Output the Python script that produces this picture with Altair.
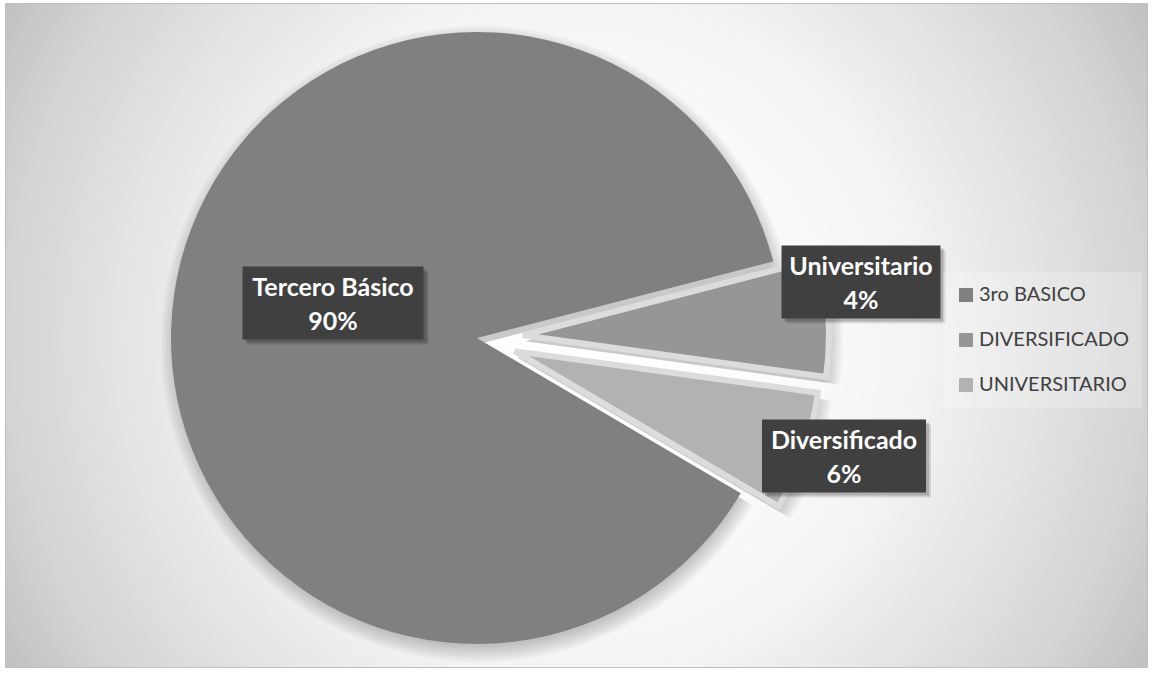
import math
import altair as alt
import pandas as pd

# ---- data ----
categories = ["3ro BASICO", "DIVERSIFICADO", "UNIVERSITARIO"]
values = [87.5, 6.2, 6.3]
label_text = ["Tercero Básico\n90%", "Universitario\n4%", "Diversificado\n6%"]
colors = ["#808080", "#969696", "#b2b2b2"]

# ---- layout / style ----
W, H = 1153, 675
CX, CY = 477, 338
R = 306
START = math.radians(120.5)
EXPLODE = [0, 46, 40]
LABEL_POS = [(333, 303), (861, 282), (844, 456)]
BOX_SIZE = [(181, 73), (159, 73), (164, 73)]
FONT = "Lato"

total = sum(values)
pie_df = pd.DataFrame({"cat": categories, "value": values, "order": list(range(len(values)))})
theta_scale = alt.Scale(domain=[0, total], range=[START, START + 2 * math.pi])

grad = {
    "gradient": "radial",
    "x1": 0.5, "y1": 0.5, "r1": 0,
    "x2": 0.5, "y2": 0.5, "r2": 0.58,
    "stops": [
        {"offset": 0.0, "color": "#ffffff"},
        {"offset": 0.3, "color": "#fcfcfc"},
        {"offset": 0.52, "color": "#f3f3f3"},
        {"offset": 0.86, "color": "#d4d4d4"},
        {"offset": 1.0, "color": "#c0c0c0"},
    ],
}

one = pd.DataFrame({"a": [0]})
layers = []
layers.append(
    alt.Chart(one).mark_rect(fill=grad, stroke="#c0c0c0", strokeWidth=1).encode(
        x=alt.value(5.5), x2=alt.value(1147.5), y=alt.value(3.5), y2=alt.value(667.5)
    )
)

color_enc = alt.Color(
    "cat:N",
    scale=alt.Scale(domain=categories, range=colors),
    legend=alt.Legend(
        title=None, orient="none", legendX=943, legendY=272, padding=13,
        fillColor="rgba(255,255,255,0.22)",
        symbolType="square", symbolSize=196, symbolStrokeWidth=0,
        labelFont=FONT, labelFontSize=20, labelColor="#404040",
        labelOffset=3, rowPadding=25,
    ),
)

cum = 0.0
for i, cat in enumerate(categories):
    mid = START + 2 * math.pi * (cum + values[i] / 2) / total
    cum += values[i]
    dx = EXPLODE[i] * math.sin(mid)
    dy = -EXPLODE[i] * math.cos(mid)
    base = (
        alt.Chart(pie_df)
        .transform_window(cum="sum(value)", sort=[alt.SortField("order")], frame=[None, 0])
        .transform_calculate(s="datum.cum - datum.value")
        .transform_filter(alt.datum.cat == cat)
    )
    # soft shadow
    for k in range(7):
        layers.append(
            base.mark_arc(radius=R - 3 + k * 2.5, color="black", opacity=0.032).encode(
                theta=alt.Theta("s:Q", scale=theta_scale),
                theta2="cum:Q",
                x=alt.value(CX + dx + 2),
                y=alt.value(CY + dy + 6),
            )
        )
    props = dict(radius=R)
    if i > 0:
        props.update(stroke="#dcdcdc", strokeWidth=6, strokeJoin="miter")
    layers.append(
        base.mark_arc(**props).encode(
            theta=alt.Theta("s:Q", scale=theta_scale),
            theta2="cum:Q",
            color=color_enc,
            x=alt.value(CX + dx),
            y=alt.value(CY + dy),
        )
    )

# data label boxes
for i, txt in enumerate(label_text):
    lx, ly = LABEL_POS[i]
    bw, bh = BOX_SIZE[i]
    ldf = pd.DataFrame({"label": [txt]})
    for off, op in [(5, 0.12), (3, 0.18)]:
        layers.append(
            alt.Chart(ldf).mark_rect(color="black", opacity=op).encode(
                x=alt.value(lx - bw / 2 + off), x2=alt.value(lx + bw / 2 + off),
                y=alt.value(ly - bh / 2 + off), y2=alt.value(ly + bh / 2 + off),
            )
        )
    layers.append(
        alt.Chart(ldf).mark_rect(color="#404040").encode(
            x=alt.value(lx - bw / 2), x2=alt.value(lx + bw / 2),
            y=alt.value(ly - bh / 2), y2=alt.value(ly + bh / 2),
        )
    )
    layers.append(
        alt.Chart(ldf).mark_text(
            font=FONT, fontSize=25, fontWeight="bold", color="white",
            lineBreak="\n", lineHeight=34, align="center", baseline="middle",
        ).encode(text="label:N", x=alt.value(lx), y=alt.value(ly - 15))
    )

chart = (
    alt.layer(*layers)
    .properties(width=W, height=H, padding=0, autosize=alt.AutoSizeParams(type="none"), background="white")
    .configure_view(stroke=None)
)

chart.save("out.html", embed_options={"renderer": "svg", "actions": False})
